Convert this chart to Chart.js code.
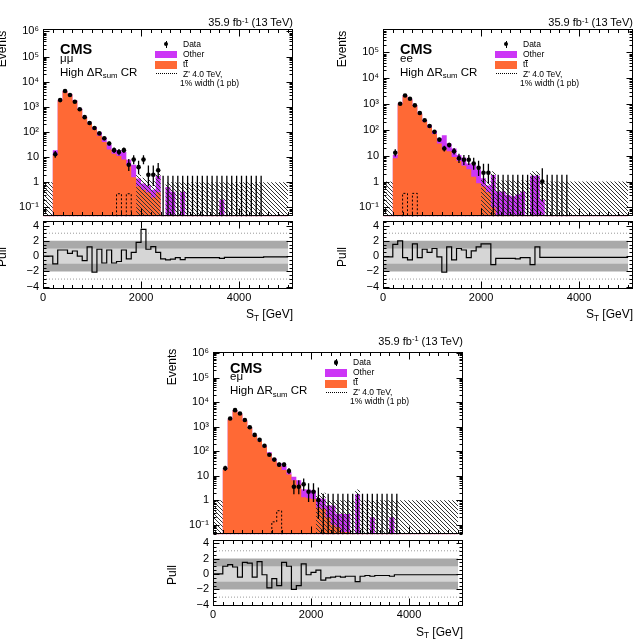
<!DOCTYPE html>
<html>
<head>
<meta charset="utf-8">
<title>S_T, high dR_sum control region</title>
<script src="https://cdn.jsdelivr.net/npm/chart.js@4.4.1/dist/chart.umd.min.js"></script>
<style>
  html, body { margin: 0; padding: 0; background: #fff; }
  body { position: relative; width: 639px; height: 642px; overflow: hidden;
         font-family: "Liberation Sans", Arial, Helvetica, sans-serif; color: #000; }
  canvas { position: absolute; }
  .txt { position: absolute; white-space: nowrap; line-height: 1; z-index: 5; }
  .txt sup { font-size: 0.68em; position: relative; top: -0.45em; vertical-align: baseline; line-height: 0; }
  .txt sub { font-size: 0.68em; position: relative; top: 0.32em; vertical-align: baseline; line-height: 0; }
  .bar { position: relative; display: inline-block; }
  .bar::after { content: ''; position: absolute; left: 0; right: 0; top: 0.02em; border-top: 1px solid #000; }
  .box { position: absolute; z-index: 5; }
</style>
</head>
<body>
<script>
// bin edges of all S_T histograms (GeV)
const binEdges = [0, 100, 200, 300, 400, 500, 600, 700, 800, 900,
  1000, 1100, 1200, 1300, 1400, 1500, 1600, 1700, 1800, 1900,
  2000, 2100, 2200, 2300, 2400, 2500, 2600, 2700, 2800, 2900,
  3000, 3100, 3200, 3300, 3400, 3500, 3600, 3700, 3800, 3900,
  4000, 4100, 4200, 4300, 4400, 4500, 4600, 4700, 4800, 4900, 5000];

// ---- mu mu ----
const mmData = [null, null, 13, 1860, 4300, 2960, 1590, 800, 390, 230,
  144, 88, 56, 35, 19, 16, 19, 5, 8, 4,
  8, 2, 2, 3, 0, 0, 0, 0, 0, 0,
  0, 0, 0, 0, 0, 0, 0, 0, 0, 0,
  0, 0, 0, 0, 0, null, null, null, null, null];
const mmTT = [0, 0, 12, 1850, 4200, 3100, 1750, 820, 390, 220,
  130, 71, 40, 20, 13.6, 11, 8, 4.7, 1.6, 0.7,
  0.5, 0.4, 0.25, 0.4, 0, 0, 0, 0, 0, 0,
  0, 0, 0, 0, 0, 0, 0, 0, 0, 0,
  0, 0, 0, 0, 0, 0, 0, 0, 0, 0];
const mmOther = [0, 0, 7, 50, 200, 150, 80, 35, 20, 20,
  30, 29, 20, 12, 6.4, 8, 8, 3.1, 3.4, 0.7,
  0.4, 0.35, 0.25, 1.4, 0, 0.65, 0.42, 0, 0.42, 0,
  0, 0, 0, 0, 0, 0, 0.2, 0, 0, 0,
  0, 0, 0, 0, 0, 0, 0, 0, 0, 0];
const mmUnc = [1, 1, 0, 0, 0, 0, 0, 0, 0, 0,
  0, 0, 0, 0, 0, 0, 0, 0, 0, 2.1,
  1.5, 1.3, 1.1, 2.2, 0, 1, 1, 1, 1, 1,
  1, 1, 1, 1, 1, 1, 1, 1, 1, 1,
  1, 1, 1, 1, 1, 1, 1, 1, 1, 1];
const mmZprime = [0, 0, 0, 0, 0, 0, 0, 0, 0, 0,
  0, 0, 0, 0, 0, 0.35, 0, 0.35, 0, 0,
  0, 0, 0, 0, 0, 0, 0, 0, 0, 0,
  0, 0, 0, 0, 0, 0, 0, 0, 0, 0,
  0, 0, 0, 0, 0, 0, 0, 0, 0, 0];
const mmPull = [0, 0, -1.0, 0.8, 0.8, 0.35, 0.67, 0, -0.6, 1.2,
  -2.1, 0.9, -0.9, 0.8, -0.9, -0.7, 0.8, -0.35, 0.5, 1.8,
  3.5, 0.9, 1.25, 0.5, -0.35, -0.5, -0.4, -0.2, -0.45, -0.2,
  -0.2, -0.2, -0.2, -0.2, -0.2, -0.2, -0.3, -0.15, -0.15, -0.15,
  -0.15, -0.15, -0.15, -0.15, -0.15, -0.1, -0.1, -0.1, -0.1, -0.1];

// ---- e e ----
const eeData = [null, null, 13, 1025, 2150, 1600, 890, 450, 235, 142,
  84, 42, 19, 26, 15, 8, 7, 7, 5, 3.4,
  2.2, 2.2, 0, 0, 0, 0, 0, 0, 0, 0,
  0, 0, 1, 0, 0, 0, 0, 0, null, null,
  null, null, null, null, null, null, null, null, null, null];
const eeTT = [0, 0, 8, 1000, 2050, 1500, 850, 420, 210, 125,
  70, 30, 19, 15, 9, 6.2, 4.1, 3.0, 1.55, 0.86,
  0.64, 0.4, 0.1, 0.05, 0, 0, 0, 0, 0, 0,
  0, 0, 0, 0, 0, 0, 0, 0, 0, 0,
  0, 0, 0, 0, 0, 0, 0, 0, 0, 0];
const eeOther = [0, 0, 2.6, 50, 80, 60, 30, 15, 20, 25,
  20, 19, 43, 15, 10, 4.4, 4.4, 2.0, 2.95, 2.1,
  0.7, 0.3, 1.7, 0.36, 0.41, 0.3, 0.27, 0.32, 0.41, 0,
  1.7, 1.7, 0.2, 0, 0, 0, 0, 0, 0, 0,
  0, 0, 0, 0, 0, 0, 0, 0, 0, 0];
const eeUnc = [1, 1, 0, 0, 0, 0, 0, 0, 0, 0,
  0, 0, 0, 0, 0, 0, 0, 0, 0, 0,
  1.3, 1.0, 2.5, 1.1, 1.1, 1.1, 1.1, 1.1, 1.1, 1.1,
  2.5, 2.5, 1, 1, 1, 1, 1, 1, 1, 1,
  1, 1, 1, 1, 1, 1, 1, 1, 1, 1];
const eeZprime = [0, 0, 0, 0, 0.35, 0, 0.35, 0, 0, 0,
  0, 0, 0, 0, 0, 0, 0, 0, 0, 0,
  0, 0, 0, 0, 0, 0, 0, 0, 0, 0,
  0, 0, 0, 0, 0, 0, 0, 0, 0, 0,
  0, 0, 0, 0, 0, 0, 0, 0, 0, 0];
const eePull = [-0.1, -0.1, 1.55, 2.0, -0.2, -0.5, 1.6, -0.2, 0.9, 0.5,
  1.0, -0.1, -2.1, 1.2, -0.5, 1.0, 0.8, -0.2, 0.7, 1.2,
  1.6, 1.6, -1.1, -0.3, -0.3, -0.3, -0.3, -0.35, -0.2, -0.2,
  -1.1, 1.2, -0.15, -0.15, -0.15, -0.15, -0.15, -0.15, -0.15, -0.15,
  -0.15, -0.15, -0.15, -0.15, -0.15, -0.15, -0.15, -0.15, -0.15, -0.15];

// ---- e mu ----
const emData = [null, null, 20, 2150, 4700, 3450, 1850, 940, 460, 288,
  165, 71, 45, 28, 28, 15.4, 3.5, 3.5, 4.4, 2.2,
  2.2, 1, 0, 0, 0, 0, 0, 0, 0, 0,
  0, 0, 0, 0, 0, 0, 0, 0, null, null,
  null, null, null, null, null, null, null, null, null, null];
const emTT = [0, 0, 17.8, 2000, 4400, 3300, 1750, 880, 440, 260,
  150, 80, 40, 25, 17, 11, 6.5, 4.2, 1.3, 1.2,
  1.1, 0.5, 0.45, 0.2, 0.1, 0.08, 0.05, 0.05, 0, 0,
  0, 0, 0, 0, 0, 0, 0, 0, 0, 0,
  0, 0, 0, 0, 0, 0, 0, 0, 0, 0];
const emOther = [0, 0, 0.5, 30, 100, 80, 50, 30, 15, 12,
  15, 10, 10, 8, 8, 3, 2.5, 2.3, 1.5, 1.5,
  1.3, 0.7, 0.7, 0.4, 0.5, 0.2, 0.22, 0.22, 0, 1.75,
  0, 0, 0.2, 0, 0, 0, 0.2, 0, 0, 0,
  0, 0, 0, 0, 0, 0, 0, 0, 0, 0];
const emUnc = [1, 1, 0, 0, 0, 0, 0, 0, 0, 0,
  0, 0, 0, 0, 0, 0, 0, 0, 0, 0,
  0, 1.6, 2.0, 1, 1, 1, 1, 1, 1, 2.7,
  1, 1, 1, 1, 1, 1, 1, 1, 1, 1,
  1, 1, 1, 1, 1, 1, 1, 1, 1, 1];
const emZprime = [0, 0, 0, 0, 0, 0, 0, 0, 0, 0,
  0, 0, 0.13, 0.37, 0, 0, 0, 0, 0, 0,
  0, 0, 0, 0, 0, 0, 0, 0, 0, 0,
  0, 0, 0, 0, 0, 0, 0, 0, 0, 0,
  0, 0, 0, 0, 0, 0, 0, 0, 0, 0];
const emPull = [0, 0, 1.0, 1.2, 0.9, -0.4, 1.5, 1.4, -0.4, 1.6,
  -0.1, -1.8, -0.6, -1.5, 1.5, 1.0, -2.0, -1.5, 1.3, -0.1,
  0.2, 0.5, -0.8, -0.5, -0.4, -0.3, -0.4, -0.3, -0.3, -1.0,
  -0.3, -0.2, -0.3, -0.2, -0.2, -0.2, -0.3, -0.1, -0.1, -0.1,
  -0.1, -0.1, -0.1, -0.1, -0.1, -0.1, -0.1, -0.1, -0.1, -0.1];

// axis ticks
const logTicks = [0.1, 1, 10, 100, 1000, 1e4, 1e5, 1e6];
const logTickLabels = ['10\u207B\u00B9', '1', '10', '10\u00B2', '10\u00B3', '10\u2074', '10\u2075', '10\u2076'];
const pullTicks = [-4, -2, 0, 2, 4];
const pullTickLabels = ['\u22124', '\u22122', '0', '2', '4'];
const xTicks = [0, 2000, 4000];
const xTickLabels = ['0', '2000', '4000'];
const pullBands = [2, 1];
const pullGrid = [3, -3];

const FONT = '"Liberation Sans", Arial, Helvetica, sans-serif';
const ORANGE = '#ff6935';
const PURPLE = '#cc36f6';
const FLOOR = 1e-4;   // below every y axis: empty bins drop out of view
const AXW = 40;       // room left of the frame for y tick labels
const PAD = { top: 10, right: 6, bottom: 10 };
const TICK_FONT = 11;

const panels = [
  { chan: '\u03BC\u03BC', data: mmData, tt: mmTT, other: mmOther, unc: mmUnc, zp: mmZprime, pull: mmPull,
    yMin: 0.044, yMax: 1.3e6, pMin: -4.3, pMax: 4.65,
    main: { x: 43, y: 29, w: 250, h: 189 }, sub: { x: 43, y: 221, w: 250, h: 69 },
    dy: 0, lumiTop: 17, xTitleTop: 308.3, eventsY: 49, pullY: 256.8 },
  { chan: 'ee', data: eeData, tt: eeTT, other: eeOther, unc: eeUnc, zp: eeZprime, pull: eePull,
    yMin: 0.045, yMax: 8.3e5, pMin: -4.3, pMax: 4.65,
    main: { x: 383, y: 29, w: 250, h: 189 }, sub: { x: 383, y: 221, w: 250, h: 69 },
    dy: 0, lumiTop: 17, xTitleTop: 308.3, eventsY: 49, pullY: 256.8 },
  { chan: 'e\u03BC', data: emData, tt: emTT, other: emOther, unc: emUnc, zp: emZprime, pull: emPull,
    yMin: 0.04, yMax: 1.15e6, pMin: -4.15, pMax: 4.45,
    main: { x: 213, y: 352, w: 250, h: 184 }, sub: { x: 213, y: 540, w: 250, h: 67 },
    dy: -4.5, lumiTop: 335.7, xTitleTop: 625.8, eventsY: 367, pullY: 574.5 }
];

Chart.defaults.font.family = FONT;
Chart.defaults.color = '#000';

// ======================================================
// helpers
// ======================================================

function makeHatch() {
  const c = document.createElement('canvas');
  c.width = 4; c.height = 4;
  const g = c.getContext('2d');
  g.strokeStyle = '#333';
  g.lineWidth = 1;
  g.beginPath();
  g.moveTo(0, 0); g.lineTo(4, 4);
  g.moveTo(-1, 3); g.lineTo(1, 5);
  g.moveTo(3, -1); g.lineTo(5, 1);
  g.stroke();
  return g.createPattern(c, 'repeat');
}
const HATCH = makeHatch();

// histogram -> step points (two per bin)
function stepPoints(vals, floor) {
  const pts = [];
  vals.forEach((v, i) => {
    const y = (floor !== undefined && !(v > 0)) ? floor : v;
    pts.push({ x: binEdges[i], y: y }, { x: binEdges[i + 1], y: y });
  });
  return pts;
}

function dataPoints(counts) {
  const pts = [];
  counts.forEach((n, i) => {
    if (n !== null && n > 0) pts.push({ x: (binEdges[i] + binEdges[i + 1]) / 2, y: n });
  });
  return pts;
}

// Poisson interval (Wilson-Hilferty)
function poissonLo(n) { return n * Math.pow(1 - 1 / (9 * n) - 1 / (3 * Math.sqrt(n)), 3); }
function poissonHi(n) { const m = n + 1; return m * Math.pow(1 - 1 / (9 * m) + 1 / (3 * Math.sqrt(m)), 3); }

// frame, inward ticks and data error bars
const hepFrame = {
  id: 'hepFrame',
  afterDatasetsDraw(chart) {
    const info = chart.canvas._hep;
    if (!info) return;
    const ctx = chart.ctx, a = chart.chartArea;
    const xs = chart.scales.x, ys = chart.scales.y;
    ctx.save();
    if (info.counts) {
      ctx.save();
      ctx.beginPath();
      ctx.rect(a.left, a.top, a.right - a.left, a.bottom - a.top);
      ctx.clip();
      ctx.strokeStyle = '#000';
      ctx.lineWidth = 1.3;
      info.counts.forEach((n, i) => {
        if (n === null) return;
        const xc = xs.getPixelForValue((binEdges[i] + binEdges[i + 1]) / 2);
        const lo = n > 0 ? poissonLo(n) : 0;
        const yLo = lo > ys.min ? ys.getPixelForValue(lo) : a.bottom;
        const yHi = ys.getPixelForValue(poissonHi(n));
        ctx.beginPath();
        ctx.moveTo(xc, yLo);
        ctx.lineTo(xc, yHi);
        ctx.stroke();
      });
      ctx.restore();
    }
    ctx.strokeStyle = '#000';
    ctx.lineWidth = 1;
    const L = Math.round(a.left) + 0.5, R = Math.round(a.right) - 0.5;
    const T = Math.round(a.top) + 0.5, B = Math.round(a.bottom) - 0.5;
    ctx.strokeRect(L, T, R - L, B - T);
    ctx.beginPath();
    for (let v = 0; v <= xs.max; v += 200) {
      const px = Math.round(xs.getPixelForValue(v)) + 0.5;
      const len = v % 2000 === 0 ? 7 : 3.5;
      ctx.moveTo(px, B); ctx.lineTo(px, B - len);
      ctx.moveTo(px, T); ctx.lineTo(px, T + len);
    }
    if (info.log) {
      for (let e = -2; e <= 7; e++) {
        for (let k = 1; k <= 9; k++) {
          const v = k * Math.pow(10, e);
          if (v < ys.min || v > ys.max) continue;
          const py = Math.round(ys.getPixelForValue(v)) + 0.5;
          const len = k === 1 ? 6 : 3;
          ctx.moveTo(L, py); ctx.lineTo(L + len, py);
          ctx.moveTo(R, py); ctx.lineTo(R - len, py);
        }
      }
    } else {
      for (let j = -10; j <= 10; j++) {
        const v = j * 0.5;
        if (v < ys.min || v > ys.max) continue;
        const py = Math.round(ys.getPixelForValue(v)) + 0.5;
        const len = j % 4 === 0 ? 6 : 3;
        ctx.moveTo(L, py); ctx.lineTo(L + len, py);
        ctx.moveTo(R, py); ctx.lineTo(R - len, py);
      }
    }
    ctx.stroke();
    ctx.restore();
  }
};
Chart.register(hepFrame);

function makeCanvas(fr, extraBottom) {
  const c = document.createElement('canvas');
  c.width = AXW + fr.w + PAD.right;
  c.height = PAD.top + fr.h + extraBottom + PAD.bottom;
  c.style.left = (fr.x - AXW) + 'px';
  c.style.top = (fr.y - PAD.top) + 'px';
  document.body.appendChild(c);
  return c;
}

// put the chart area exactly on the frame
function alignCanvas(chart, fr) {
  chart.canvas.style.left = (fr.x - chart.chartArea.left) + 'px';
  chart.canvas.style.top = (fr.y - chart.chartArea.top) + 'px';
}

const noLine = 'rgba(0,0,0,0)';

function mainChart(p) {
  const cv = makeCanvas(p.main, 0);
  cv._hep = { counts: p.data, log: true };
  const total = p.tt.map((v, i) => v + p.other[i]);
  const chart = new Chart(cv, {
    type: 'line',
    data: {
      datasets: [
        { label: 'Data', data: dataPoints(p.data), showLine: false, pointRadius: 2.3,
          pointBackgroundColor: '#000', pointBorderWidth: 0, order: 1 },
        { label: "Z'", data: stepPoints(p.zp, FLOOR), borderColor: '#000', borderWidth: 1,
          borderDash: [2, 2], pointRadius: 0, fill: false, order: 2 },
        { label: 'unc', data: stepPoints(p.unc, FLOOR), borderColor: noLine, borderWidth: 0,
          pointRadius: 0, fill: 'start', backgroundColor: HATCH, order: 3 },
        { label: 'ttbar', data: stepPoints(p.tt, FLOOR), borderColor: noLine, borderWidth: 0,
          pointRadius: 0, fill: 'start', backgroundColor: ORANGE, order: 4 },
        { label: 'Other', data: stepPoints(total, FLOOR), borderColor: noLine, borderWidth: 0,
          pointRadius: 0, fill: 'start', backgroundColor: PURPLE, order: 5 }
      ]
    },
    options: {
      responsive: false, animation: false, devicePixelRatio: 1,
      layout: { padding: { left: 0, right: PAD.right, top: PAD.top, bottom: PAD.bottom } },
      plugins: { legend: { display: false }, tooltip: { enabled: false } },
      scales: {
        x: { type: 'linear', min: 0, max: 5100, display: false },
        y: {
          type: 'logarithmic', min: p.yMin, max: p.yMax,
          afterFit: s => { s.width = AXW; },
          afterBuildTicks: s => { s.ticks = logTicks.filter(v => v >= p.yMin && v <= p.yMax).map(v => ({ value: v })); },
          ticks: { callback: v => logTickLabels[logTicks.indexOf(v)], font: { size: TICK_FONT }, color: '#000',
                   padding: 4, autoSkip: false },
          grid: { display: false, drawTicks: false },
          border: { display: false }
        }
      }
    }
  });
  alignCanvas(chart, p.main);
}

function pullChart(p) {
  const cv = makeCanvas(p.sub, 18);
  cv._hep = { log: false };
  const datasets = [];
  pullBands.forEach((b, k) => {
    datasets.push({ data: [{ x: 0, y: b }, { x: 5000, y: b }], fill: { value: -b },
      backgroundColor: k === 0 ? '#a9a9a9' : '#d6d6d6', borderColor: noLine, borderWidth: 0,
      pointRadius: 0, order: 10 - k });
  });
  pullGrid.forEach(g => {
    datasets.push({ data: [{ x: 0, y: g }, { x: 5100, y: g }], borderColor: '#9a9a9a', borderWidth: 1,
      borderDash: [1, 2], fill: false, pointRadius: 0, order: 3 });
  });
  datasets.push({ data: stepPoints(p.pull), borderColor: '#000', borderWidth: 1.2, fill: false,
    pointRadius: 0, order: 1 });
  const chart = new Chart(cv, {
    type: 'line',
    data: { datasets: datasets },
    options: {
      responsive: false, animation: false, devicePixelRatio: 1,
      layout: { padding: { left: 0, right: PAD.right, top: PAD.top, bottom: PAD.bottom } },
      plugins: { legend: { display: false }, tooltip: { enabled: false } },
      scales: {
        x: {
          type: 'linear', min: 0, max: 5100,
          afterFit: s => { s.height = 18; },
          afterBuildTicks: s => { s.ticks = xTicks.map(v => ({ value: v })); },
          ticks: { callback: v => xTickLabels[xTicks.indexOf(v)], font: { size: TICK_FONT }, color: '#000',
                   padding: 2, maxRotation: 0, autoSkip: false },
          grid: { display: false, drawTicks: false },
          border: { display: false }
        },
        y: {
          type: 'linear', min: p.pMin, max: p.pMax,
          afterFit: s => { s.width = AXW; },
          afterBuildTicks: s => { s.ticks = pullTicks.map(v => ({ value: v })); },
          ticks: { callback: v => pullTickLabels[pullTicks.indexOf(v)], font: { size: TICK_FONT }, color: '#000',
                   padding: 4, autoSkip: false },
          grid: { display: false, drawTicks: false },
          border: { display: false }
        }
      }
    }
  });
  alignCanvas(chart, p.sub);
}

// ======================================================
// texts and legend
// ======================================================

function addText(html, left, top, size, extra) {
  const d = document.createElement('div');
  d.className = 'txt';
  d.innerHTML = html;
  if (left !== null) d.style.left = left + 'px';
  d.style.top = top + 'px';
  d.style.fontSize = size + 'px';
  if (extra) Object.assign(d.style, extra);
  document.body.appendChild(d);
  return d;
}

function addBox(left, top, w, h, style) {
  const d = document.createElement('div');
  d.className = 'box';
  d.style.left = left + 'px';
  d.style.top = top + 'px';
  d.style.width = w + 'px';
  d.style.height = h + 'px';
  Object.assign(d.style, style);
  document.body.appendChild(d);
}

function decorate(p) {
  const fx = p.main.x, fy = p.main.y + p.dy, right = 639 - (p.main.x + p.main.w);
  const rot = { transform: 'translate(-50%, -50%) rotate(-90deg)' };
  addText('35.9 fb<sup>-1</sup> (13 TeV)', null, p.lumiTop, 11, { right: right + 'px' });
  addText('CMS', fx + 17, fy + 13, 14.5, { fontWeight: 'bold' });
  addText(p.chan, fx + 17, fy + 23.5, 11.5);
  addText('High \u0394R<sub>sum</sub> CR', fx + 17, fy + 37.5, 11.5);

  // legend
  addBox(fx + 122.5, fy + 11.5, 1.2, 7, { background: '#000' });
  addBox(fx + 120.8, fy + 12.8, 4.6, 4.6, { background: '#000', borderRadius: '50%' });
  addText('Data', fx + 140, fy + 10.5, 8.5);
  addBox(fx + 112, fy + 21.5, 22, 7.5, { background: PURPLE });
  addText('Other', fx + 140, fy + 20.5, 8.5);
  addBox(fx + 112, fy + 32, 22, 8, { background: ORANGE });
  addText('t<span class="bar">t</span>', fx + 140, fy + 30.8, 8.5);
  addBox(fx + 113, fy + 44.3, 21, 0, { borderTop: '1px dotted #000' });
  addText("Z' 4.0 TeV,", fx + 140, fy + 40.5, 8.5);
  addText('1% width (1 pb)', fx + 137, fy + 49.6, 8.5);

  // axis titles
  addText('Events', p.main.x - 41.3, p.eventsY, 12, rot);
  addText('Pull', p.sub.x - 41, p.pullY, 12, rot);
  addText('S<sub>T</sub> [GeV]', null, p.xTitleTop, 12, { right: right + 'px' });
}

panels.forEach(p => {
  mainChart(p);
  pullChart(p);
  decorate(p);
});
</script>
</body>
</html>
